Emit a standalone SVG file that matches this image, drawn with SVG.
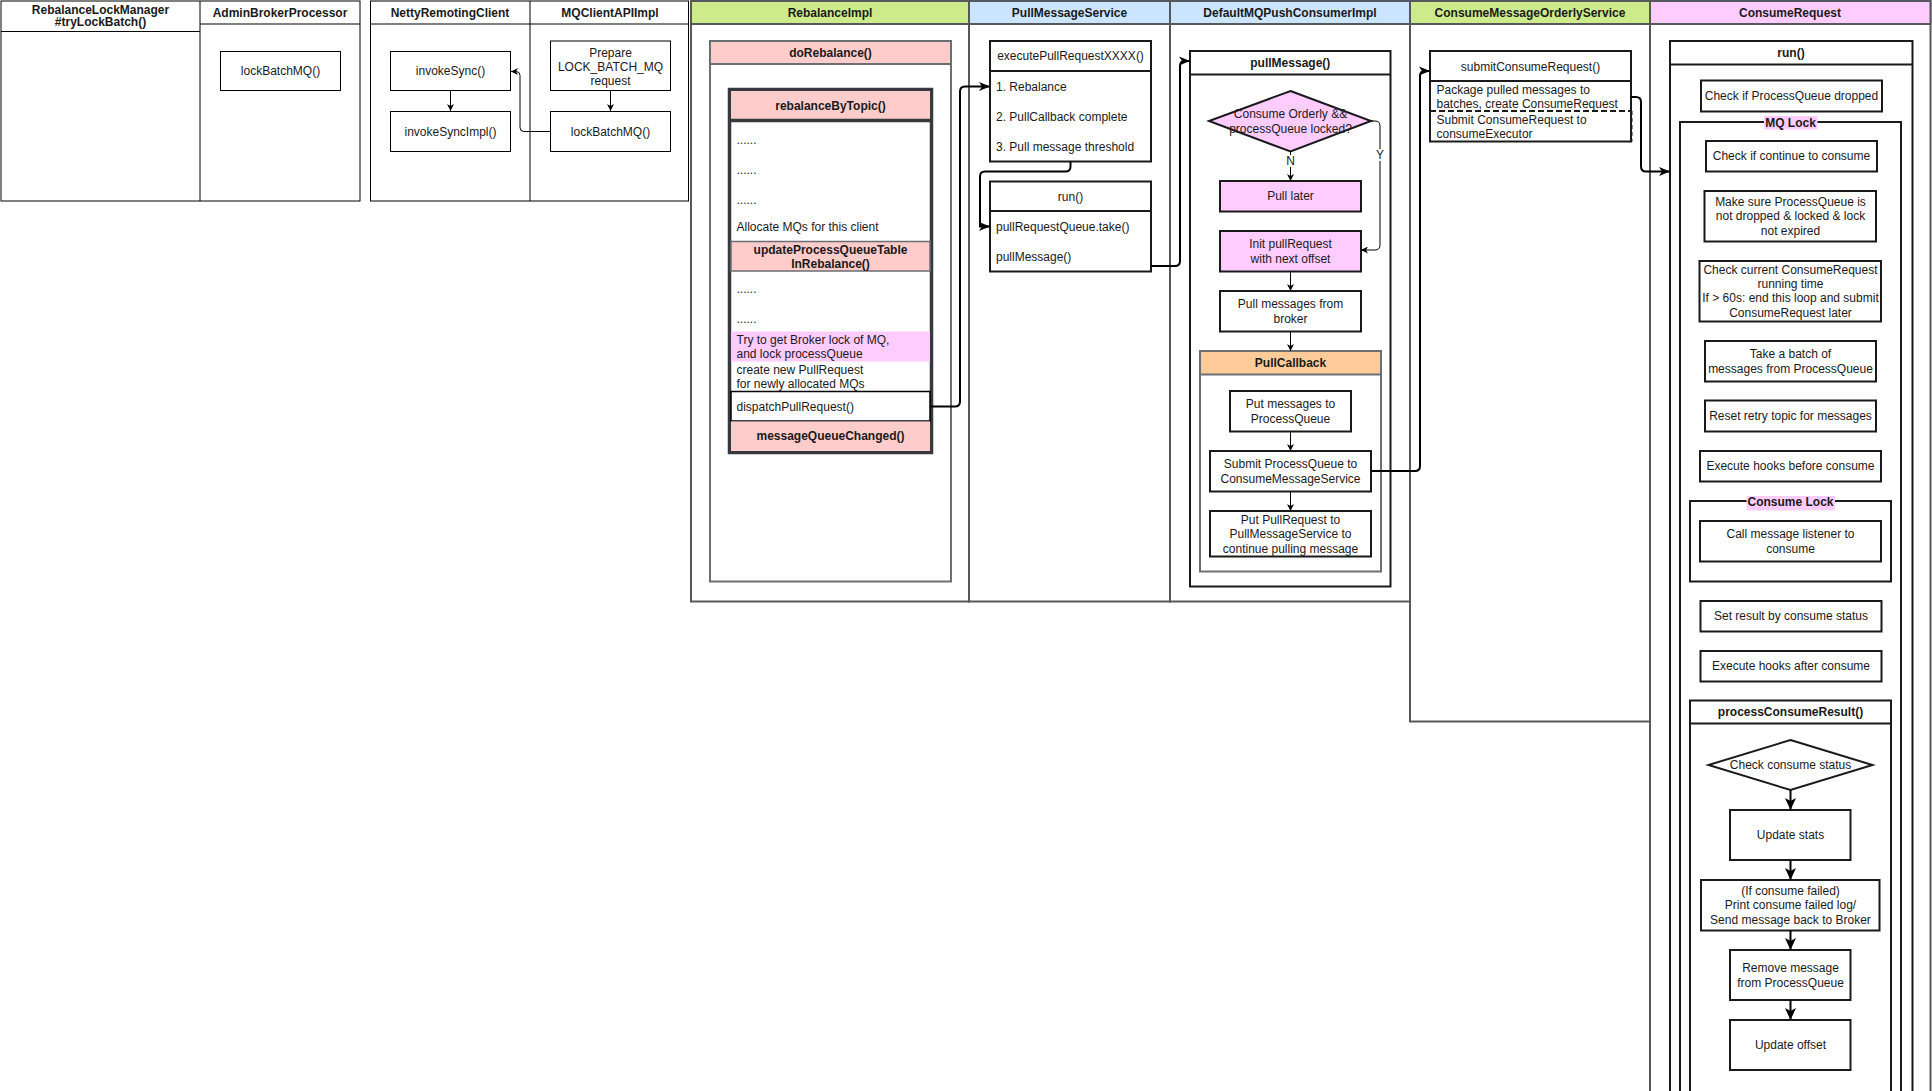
<svg xmlns="http://www.w3.org/2000/svg" width="1932" height="1091" viewBox="0 0 1932 1091">
  <style>
    .t { font-family: "Liberation Sans", Arial, Helvetica, sans-serif; font-size: 12px; fill: #1a1a1a; text-anchor: middle; dominant-baseline: central; }
    .b { font-weight: bold; }
    .l { text-anchor: start; }
    .frame { fill: #fff; stroke: #000; stroke-width: 1; }
    .thin { fill: #fff; stroke: #000; stroke-width: 1; }
    .lane { fill: #fff; stroke: #55585c; stroke-width: 2; }
    .box { fill: #fff; stroke: #1a1a1a; stroke-width: 2; }
    .gbox { fill: #fff; stroke: #6b6e72; stroke-width: 2; }
    .heavy { fill: #fff; stroke: #36393d; stroke-width: 3.5; }
    .red { fill: #ffcccc; }
    .pink { fill: #ffccff; }
    .green { fill: #cdeb8b; }
    .blue { fill: #cce5ff; }
    .orange { fill: #ffcc99; }
    .conn { fill: none; stroke: #000; stroke-width: 2; }
    .conn1 { fill: none; stroke: #000; stroke-width: 1; }
  </style>
  <defs>
    <marker id="arrow" markerUnits="userSpaceOnUse" markerWidth="11" markerHeight="10" viewBox="0 0 11 10" refX="11" refY="5" orient="auto">
      <path d="M0,0.5 L11,5 L0,9.5 L3,5 z" fill="#000"/>
    </marker>
    <marker id="arrow-s" markerUnits="userSpaceOnUse" markerWidth="7" markerHeight="7" viewBox="0 0 7 7" refX="7" refY="3.5" orient="auto">
      <path d="M0,0 L7,3.5 L0,7 L2,3.5 z" fill="#000"/>
    </marker>
    <marker id="arrow-l" markerUnits="userSpaceOnUse" markerWidth="12" markerHeight="12" viewBox="0 0 12 12" refX="12" refY="6" orient="auto">
      <path d="M0,0.5 L12,6 L0,11.5 L3,6 z" fill="#000"/>
    </marker>
  </defs>

  <rect x="0" y="0" width="1932" height="1091" fill="#fff"/>

  <!-- Broker side frame -->
  <g id="broker-frame">
    <rect class="frame" x="1" y="1" width="359" height="200"/>
    <line x1="200" y1="1" x2="200" y2="201" stroke="#000"/>
    <line x1="1" y1="31.5" x2="200" y2="31.5" stroke="#000"/>
    <line x1="200" y1="24" x2="360" y2="24" stroke="#000"/>
    <text class="t b" x="100.5" y="9.5">RebalanceLockManager</text>
    <text class="t b" x="100.5" y="22">#tryLockBatch()</text>
    <text class="t b" x="280" y="13">AdminBrokerProcessor</text>
  </g>
  <g id="admin-lockBatchMQ">
    <rect class="thin" x="220.5" y="51.5" width="120" height="39"/>
    <text class="t" x="280.5" y="71">lockBatchMQ()</text>
  </g>

  <!-- Client remoting frame -->
  <g id="client-frame">
    <rect class="frame" x="370.5" y="1" width="318" height="200"/>
    <line x1="530" y1="1" x2="530" y2="201" stroke="#000"/>
    <line x1="370.5" y1="24" x2="688.5" y2="24" stroke="#000"/>
    <text class="t b" x="450" y="13">NettyRemotingClient</text>
    <text class="t b" x="610" y="13">MQClientAPIImpl</text>
  </g>
  <g id="invokeSync">
    <rect class="thin" x="390.5" y="51.5" width="120" height="39"/>
    <text class="t" x="450.5" y="71">invokeSync()</text>
  </g>
  <g id="invokeSyncImpl">
    <rect class="thin" x="390.5" y="111.5" width="120" height="40"/>
    <text class="t" x="450.5" y="131.5">invokeSyncImpl()</text>
  </g>
  <g id="prepare-request">
    <rect class="thin" x="550.5" y="41" width="120" height="49.5"/>
    <text class="t" x="610.5" y="53">Prepare</text>
    <text class="t" x="610.5" y="66.5">LOCK_BATCH_MQ</text>
    <text class="t" x="610.5" y="80.5">request</text>
  </g>
  <g id="client-lockBatchMQ">
    <rect class="thin" x="550.5" y="111.5" width="120" height="40"/>
    <text class="t" x="610.5" y="131.5">lockBatchMQ()</text>
  </g>

  <!-- Consumer side lanes -->
  <g id="lane-rebalanceImpl">
    <rect class="lane" x="691" y="1" width="278" height="600.5"/>
    <rect class="lane green" x="691" y="1" width="278" height="23"/>
    <text class="t b" x="830" y="13">RebalanceImpl</text>
  </g>
  <g id="lane-pullMessageService">
    <rect class="lane" x="969" y="1" width="201" height="600.5"/>
    <rect class="lane blue" x="969" y="1" width="201" height="23"/>
    <text class="t b" x="1069.5" y="13">PullMessageService</text>
  </g>
  <g id="lane-defaultMQPushConsumerImpl">
    <rect class="lane" x="1170" y="1" width="240" height="600.5"/>
    <rect class="lane blue" x="1170" y="1" width="240" height="23"/>
    <text class="t b" x="1290" y="13">DefaultMQPushConsumerImpl</text>
  </g>
  <g id="lane-consumeMessageOrderlyService">
    <rect class="lane" x="1410" y="1" width="240" height="720.5"/>
    <rect class="lane green" x="1410" y="1" width="240" height="23"/>
    <text class="t b" x="1530" y="13">ConsumeMessageOrderlyService</text>
  </g>
  <g id="lane-consumeRequest">
    <rect class="lane" x="1650" y="1" width="280.5" height="1100"/>
    <rect class="lane pink" x="1650" y="1" width="280.5" height="23"/>
    <text class="t b" x="1790" y="13">ConsumeRequest</text>
  </g>

  <!-- RebalanceImpl -->
  <g id="doRebalance">
    <rect class="gbox" x="710" y="41" width="241" height="540.5"/>
    <rect class="gbox red" x="710" y="41" width="241" height="23"/>
    <text class="t b" x="830.5" y="52.5">doRebalance()</text>
  </g>
  <g id="rebalanceByTopic">
    <rect class="heavy" x="729.5" y="89.5" width="202" height="363"/>
    <rect class="red" x="731" y="91" width="199" height="29.5"/>
    <line x1="729.5" y1="120.5" x2="931.5" y2="120.5" stroke="#36393d" stroke-width="3.5"/>
    <text class="t b" x="830.5" y="105.5">rebalanceByTopic()</text>
    <text class="t l" x="736.5" y="140">......</text>
    <text class="t l" x="736.5" y="170">......</text>
    <text class="t l" x="736.5" y="200">......</text>
    <text class="t l" x="736.5" y="227">Allocate MQs for this client</text>
    <rect x="731" y="241.5" width="199" height="29.5" fill="#ffcccc" stroke="#6b6e72" stroke-width="1.5"/>
    <text class="t b" x="830.5" y="249.5">updateProcessQueueTable</text>
    <text class="t b" x="830.5" y="263.5">InRebalance()</text>
    <text class="t l" x="736.5" y="289">......</text>
    <text class="t l" x="736.5" y="319">......</text>
    <rect class="pink" x="731" y="331.5" width="199" height="30"/>
    <text class="t l" x="736.5" y="340">Try to get Broker lock of MQ,</text>
    <text class="t l" x="736.5" y="354">and lock processQueue</text>
    <text class="t l" x="736.5" y="370">create new PullRequest</text>
    <text class="t l" x="736.5" y="384">for newly allocated MQs</text>
    <rect x="731" y="391.5" width="199" height="29.5" fill="#fff" stroke="#000" stroke-width="1.5"/>
    <text class="t l" x="736.5" y="406.5">dispatchPullRequest()</text>
    <rect class="red" x="731" y="421.5" width="199" height="29.5"/>
    <text class="t b" x="830.5" y="436">messageQueueChanged()</text>
  </g>

  <!-- PullMessageService -->
  <g id="executePullRequest">
    <rect class="box" x="990" y="41" width="161" height="120.5"/>
    <line x1="990" y1="71" x2="1151" y2="71" stroke="#1a1a1a" stroke-width="2"/>
    <text class="t" x="1070.5" y="56">executePullRequestXXXX()</text>
    <text class="t l" x="996" y="86.5">1. Rebalance</text>
    <text class="t l" x="996" y="116.5">2. PullCallback complete</text>
    <text class="t l" x="996" y="146.5">3. Pull message threshold</text>
  </g>
  <g id="pullService-run">
    <rect class="box" x="990" y="181.5" width="161" height="90"/>
    <line x1="990" y1="211" x2="1151" y2="211" stroke="#1a1a1a" stroke-width="2"/>
    <text class="t" x="1070.5" y="196.5">run()</text>
    <text class="t l" x="996" y="226.5">pullRequestQueue.take()</text>
    <text class="t l" x="996" y="256.5">pullMessage()</text>
  </g>

  <!-- DefaultMQPushConsumerImpl -->
  <g id="pullMessage">
    <rect class="box" x="1190" y="51" width="200.5" height="535.5"/>
    <line x1="1190" y1="74.5" x2="1390.5" y2="74.5" stroke="#1a1a1a" stroke-width="2"/>
    <text class="t b" x="1290.3" y="62.5">pullMessage()</text>
  </g>
  <g id="orderly-locked-check">
    <polygon points="1290.5,91 1371,121 1290.5,151.5 1209,121" fill="#ffccff" stroke="#1a1a1a" stroke-width="2"/>
    <text class="t" x="1290.5" y="113.5">Consume Orderly &amp;&amp;</text>
    <text class="t" x="1290.5" y="128.5">processQueue locked?</text>
  </g>
  <g id="pull-later">
    <rect class="box pink" x="1220" y="181" width="141" height="30.5"/>
    <text class="t" x="1290.5" y="196">Pull later</text>
  </g>
  <g id="init-pullRequest">
    <rect class="box pink" x="1220" y="231" width="141" height="40.5"/>
    <text class="t" x="1290.5" y="244">Init pullRequest</text>
    <text class="t" x="1290.5" y="258.5">with next offset</text>
  </g>
  <g id="pull-from-broker">
    <rect class="box" x="1220" y="291" width="141" height="40.5"/>
    <text class="t" x="1290.5" y="303.5">Pull messages from</text>
    <text class="t" x="1290.5" y="318.5">broker</text>
  </g>
  <g id="pullCallback">
    <rect class="gbox" x="1200" y="351" width="181" height="220.5"/>
    <rect class="gbox orange" x="1200" y="351" width="181" height="23.5"/>
    <text class="t b" x="1290.5" y="362.5">PullCallback</text>
  </g>
  <g id="put-to-processQueue">
    <rect class="box" x="1230" y="391" width="121" height="40.5"/>
    <text class="t" x="1290.5" y="404">Put messages to</text>
    <text class="t" x="1290.5" y="418.5">ProcessQueue</text>
  </g>
  <g id="submit-processQueue">
    <rect class="box" x="1210" y="451" width="161" height="40.5"/>
    <text class="t" x="1290.5" y="464">Submit ProcessQueue to</text>
    <text class="t" x="1290.5" y="478.5">ConsumeMessageService</text>
  </g>
  <g id="put-pullRequest">
    <rect class="box" x="1210" y="511" width="161" height="45.5"/>
    <text class="t" x="1290.5" y="520">Put PullRequest to</text>
    <text class="t" x="1290.5" y="534">PullMessageService to</text>
    <text class="t" x="1290.5" y="548.5">continue pulling message</text>
  </g>

  <!-- ConsumeMessageOrderlyService -->
  <g id="submitConsumeRequest">
    <rect class="box" x="1430" y="51" width="201" height="90.5"/>
    <line x1="1430" y1="81" x2="1631" y2="81" stroke="#1a1a1a" stroke-width="2"/>
    <text class="t" x="1530.5" y="66.5">submitConsumeRequest()</text>
    <text class="t l" x="1436.5" y="90">Package pulled messages to</text>
    <text class="t l" x="1436.5" y="103.5">batches, create ConsumeRequest</text>
    <line x1="1430" y1="111" x2="1631" y2="111" stroke="#1a1a1a" stroke-width="2" stroke-dasharray="6 3"/>
    <line x1="1632" y1="111" x2="1632" y2="141.5" stroke="#1a1a1a" stroke-width="1" stroke-dasharray="4 3"/>
    <text class="t l" x="1436.5" y="119.5">Submit ConsumeRequest to</text>
    <text class="t l" x="1436.5" y="133.5">consumeExecutor</text>
  </g>

  <!-- ConsumeRequest -->
  <g id="consumeRequest-run">
    <rect class="box" x="1670" y="41" width="242.5" height="1060"/>
    <line x1="1670" y1="64.5" x2="1912.5" y2="64.5" stroke="#1a1a1a" stroke-width="2"/>
    <text class="t b" x="1791" y="52.5">run()</text>
  </g>
  <g id="check-dropped">
    <rect class="box" x="1701" y="80.5" width="181" height="31"/>
    <text class="t" x="1791.5" y="96">Check if ProcessQueue dropped</text>
  </g>
  <g id="mq-lock">
    <rect class="box" x="1680" y="122" width="221" height="980" fill="none"/>
    <rect class="pink" x="1764" y="116" width="53.5" height="13.5"/>
    <text class="t b" x="1790.5" y="122.5">MQ Lock</text>
  </g>
  <g id="check-continue">
    <rect class="box" x="1706" y="141" width="171" height="30.5"/>
    <text class="t" x="1791.5" y="156">Check if continue to consume</text>
  </g>
  <g id="check-lock-state">
    <rect class="box" x="1704.5" y="191" width="171.5" height="50.5"/>
    <text class="t" x="1790.5" y="201.5">Make sure ProcessQueue is</text>
    <text class="t" x="1790.5" y="216">not dropped &amp; locked &amp; lock</text>
    <text class="t" x="1790.5" y="230.5">not expired</text>
  </g>
  <g id="check-running-time">
    <rect class="box" x="1699.5" y="261" width="181.5" height="60.5"/>
    <text class="t" x="1790.5" y="269.5">Check current ConsumeRequest</text>
    <text class="t" x="1790.5" y="283.5">running time</text>
    <text class="t" x="1790.5" y="298">If &gt; 60s: end this loop and submit</text>
    <text class="t" x="1790.5" y="312.5">ConsumeRequest later</text>
  </g>
  <g id="take-batch">
    <rect class="box" x="1705" y="341" width="171" height="40.5"/>
    <text class="t" x="1790.5" y="353.5">Take a batch of</text>
    <text class="t" x="1790.5" y="368.5">messages from ProcessQueue</text>
  </g>
  <g id="reset-retry-topic">
    <rect class="box" x="1705" y="400.5" width="171" height="31"/>
    <text class="t" x="1790.5" y="416">Reset retry topic for messages</text>
  </g>
  <g id="hooks-before">
    <rect class="box" x="1700" y="451" width="181" height="30.5"/>
    <text class="t" x="1790.5" y="466">Execute hooks before consume</text>
  </g>
  <g id="consume-lock">
    <rect class="box" x="1690" y="501" width="201" height="80.5" fill="none"/>
    <rect class="pink" x="1746.5" y="496" width="88.5" height="14.5"/>
    <text class="t b" x="1790.5" y="502">Consume Lock</text>
  </g>
  <g id="call-listener">
    <rect class="box" x="1700" y="521" width="181" height="40.5"/>
    <text class="t" x="1790.5" y="533.5">Call message listener to</text>
    <text class="t" x="1790.5" y="548.5">consume</text>
  </g>
  <g id="set-result">
    <rect class="box" x="1700.5" y="601" width="181" height="30.5"/>
    <text class="t" x="1791" y="616">Set result by consume status</text>
  </g>
  <g id="hooks-after">
    <rect class="box" x="1700.5" y="651" width="181" height="30.5"/>
    <text class="t" x="1791" y="666">Execute hooks after consume</text>
  </g>
  <g id="processConsumeResult">
    <rect class="box" x="1690" y="700.5" width="201" height="400"/>
    <line x1="1690" y1="723.5" x2="1891" y2="723.5" stroke="#1a1a1a" stroke-width="2"/>
    <text class="t b" x="1790.5" y="712">processConsumeResult()</text>
  </g>
  <g id="check-status">
    <polygon points="1790.5,740 1872.5,765 1790.5,790 1708.5,765" fill="#fff" stroke="#1a1a1a" stroke-width="2"/>
    <text class="t" x="1790.5" y="765">Check consume status</text>
  </g>
  <g id="update-stats">
    <rect class="box" x="1730" y="810" width="120.5" height="50"/>
    <text class="t" x="1790.5" y="835">Update stats</text>
  </g>
  <g id="on-failure">
    <rect class="box" x="1701" y="880" width="178.5" height="50.5"/>
    <text class="t" x="1790.5" y="890.5">(If consume failed)</text>
    <text class="t" x="1790.5" y="905">Print consume failed log/</text>
    <text class="t" x="1790.5" y="919.5">Send message back to Broker</text>
  </g>
  <g id="remove-message">
    <rect class="box" x="1730" y="950" width="120.5" height="50"/>
    <text class="t" x="1790.5" y="967.5">Remove message</text>
    <text class="t" x="1790.5" y="982.5">from ProcessQueue</text>
  </g>
  <g id="update-offset">
    <rect class="box" x="1730" y="1020" width="120.5" height="50"/>
    <text class="t" x="1790.5" y="1045">Update offset</text>
  </g>

  <!-- Connectors -->
  <g id="connectors">
    <path class="conn1" d="M450.5,90.5 V111" marker-end="url(#arrow-s)"/>
    <path class="conn1" d="M610.5,90.5 V111" marker-end="url(#arrow-s)"/>
    <path class="conn1" d="M550.5,131.5 H524 Q520,131.5 520,127.5 V75.5 Q520,71.5 516,71.5 H511" marker-end="url(#arrow-s)"/>

    <path class="conn" d="M931,406.5 H955 Q960,406.5 960,401.5 V91.5 Q960,86.5 965,86.5 H990" marker-end="url(#arrow)"/>
    <path class="conn" d="M1070.5,161.5 V166.5 Q1070.5,171.5 1065.5,171.5 H985 Q980,171.5 980,176.5 V226.5 H990" marker-end="url(#arrow)"/>
    <path class="conn" d="M1151,266 H1175 Q1180,266 1180,261 V66 Q1180,61 1185,61 H1190" marker-end="url(#arrow)"/>

    <path class="conn1" d="M1290.5,151.5 V181" marker-end="url(#arrow-s)"/>
    <rect x="1285" y="155" width="11" height="12" fill="#fff"/>
    <text class="t" x="1290.5" y="161">N</text>
    <path class="conn1" d="M1371,121 H1375 Q1380,121 1380,126 V245 Q1380,250 1375,250 H1361" marker-end="url(#arrow-s)"/>
    <rect x="1375" y="149" width="10" height="12" fill="#fff"/>
    <text class="t" x="1380" y="155">Y</text>
    <path class="conn1" d="M1290.5,271.5 V291" marker-end="url(#arrow-s)"/>
    <path class="conn1" d="M1290.5,331.5 V351" marker-end="url(#arrow-s)"/>
    <path class="conn1" d="M1290.5,431.5 V451" marker-end="url(#arrow-s)"/>
    <path class="conn1" d="M1290.5,491.5 V511" marker-end="url(#arrow-s)"/>

    <path class="conn" d="M1371,471 H1415 Q1420,471 1420,466 V76 Q1420,71 1425,71 H1430" marker-end="url(#arrow)"/>
    <path class="conn" d="M1631,97 H1636 Q1641,97 1641,102 V166.5 Q1641,171.5 1646,171.5 H1670" marker-end="url(#arrow)"/>

    <path class="conn" d="M1790.5,790 V810" marker-end="url(#arrow-l)"/>
    <path class="conn" d="M1790.5,860 V880" marker-end="url(#arrow-l)"/>
    <path class="conn" d="M1790.5,930.5 V950" marker-end="url(#arrow-l)"/>
    <path class="conn" d="M1790.5,1000 V1020" marker-end="url(#arrow-l)"/>
  </g>
</svg>
